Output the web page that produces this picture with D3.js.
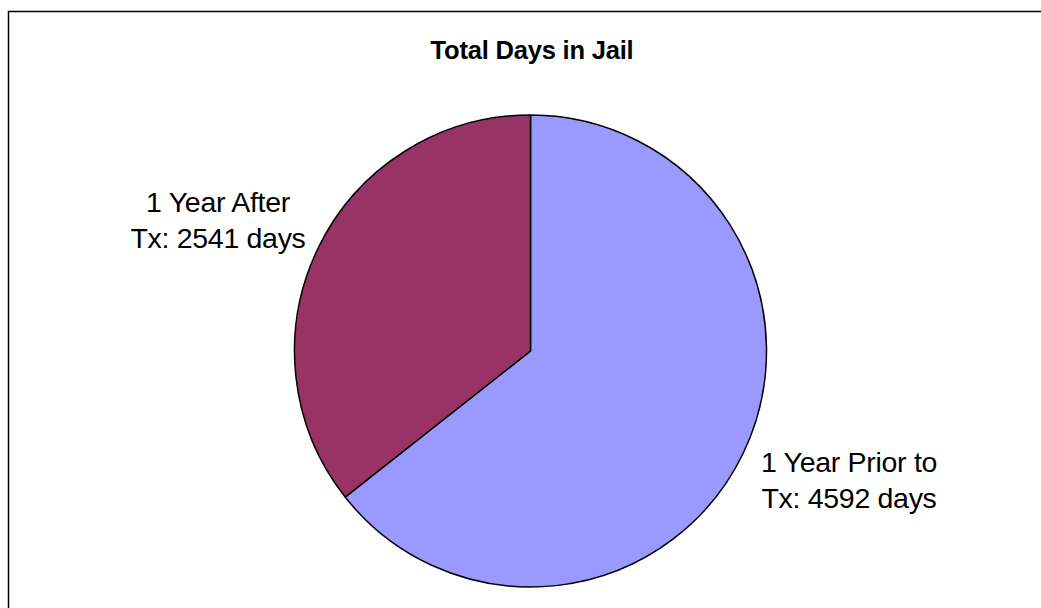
<!DOCTYPE html>
<html>
<head>
<meta charset="utf-8">
<script src="https://cdn.jsdelivr.net/npm/d3@7"></script>
<style>
  html, body { margin: 0; padding: 0; background: #fff; }
  svg { display: block; font-family: "Liberation Sans", Arial, sans-serif; }
</style>
</head>
<body>
<svg id="chart" width="1041" height="608"></svg>
<script>
// chart data
const title = 'Total Days in Jail';
const categories = ['1 Year Prior to Tx', '1 Year After Tx'];
const values = [4592, 2541];
const colors = ['#9999FF', '#993366'];
// label lines, as they wrap in the picture
const labelLines = [
  ['1 Year Prior to', 'Tx: 4592 days'],
  ['1 Year After', 'Tx: 2541 days']
];

const W = 1041, H = 608;
const cx = 530.5, cy = 351, R = 236;

const svg = d3.select('#chart');

// outer frame (right and bottom edges run off the picture)
svg.append('rect')
  .attr('x', 8.5).attr('y', 11.5)
  .attr('width', W + 20).attr('height', H + 20)
  .attr('fill', 'none').attr('stroke', '#000').attr('stroke-width', 1.5);

svg.append('text')
  .attr('x', 532).attr('y', 59)
  .attr('text-anchor', 'middle')
  .attr('font-weight', 'bold')
  .attr('font-size', 25.5)
  .attr('letter-spacing', -0.2)
  .text(title);

const pie = d3.pie().sort(null).value(d => d);
const arc = d3.arc().innerRadius(0).outerRadius(R);
const slices = pie(values);

const g = svg.append('g').attr('transform', `translate(${cx},${cy})`);
g.selectAll('path')
  .data(slices)
  .join('path')
  .attr('d', arc)
  .attr('fill', (d, i) => colors[i])
  .attr('stroke', '#000')
  .attr('stroke-width', 1.5)
  .attr('stroke-linejoin', 'round');

// data labels, placed outside each slice
const labelPos = [
  { x: 849, y: 472 },
  { x: 218, y: 212 }
];
const labels = svg.append('g')
  .attr('font-size', 28.5)
  .attr('letter-spacing', -0.3)
  .attr('text-anchor', 'middle')
  .attr('fill', '#000');

labelLines.forEach((lines, i) => {
  const t = labels.append('text').attr('x', labelPos[i].x).attr('y', labelPos[i].y);
  lines.forEach((ln, j) => {
    t.append('tspan').attr('x', labelPos[i].x).attr('dy', j === 0 ? 0 : 36).text(ln);
  });
});
</script>
</body>
</html>
